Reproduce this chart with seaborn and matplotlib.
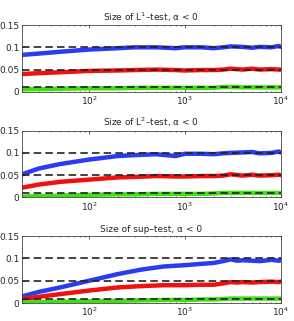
import matplotlib
matplotlib.use("Agg")
import matplotlib.pyplot as plt
import seaborn as sns
import numpy as np
import pandas as pd

# sample sizes (log axis)
n_l1 = [20, 30, 50, 100, 200, 300, 500, 800, 1000, 1500, 2000, 2500, 3000, 4000, 5000, 6000, 8000, 9500, 10000]
l1_blue = [0.083, 0.086, 0.090, 0.095, 0.098, 0.100, 0.100, 0.098, 0.100, 0.100, 0.098, 0.100, 0.102, 0.101, 0.099, 0.101, 0.100, 0.103, 0.101]
l1_red = [0.040, 0.042, 0.044, 0.047, 0.048, 0.049, 0.050, 0.049, 0.048, 0.049, 0.049, 0.050, 0.052, 0.050, 0.052, 0.050, 0.051, 0.050, 0.050]
l1_green = [0.006, 0.006, 0.007, 0.008, 0.008, 0.009, 0.009, 0.009, 0.009, 0.009, 0.009, 0.011, 0.011, 0.010, 0.010, 0.010, 0.010, 0.010, 0.010]

n_l2 = [20, 30, 50, 100, 200, 300, 500, 800, 1000, 1500, 2000, 2500, 3000, 4000, 5000, 6000, 8000, 9500, 10000]
l2_blue = [0.052, 0.065, 0.075, 0.085, 0.093, 0.095, 0.097, 0.093, 0.098, 0.098, 0.097, 0.099, 0.100, 0.101, 0.102, 0.099, 0.100, 0.103, 0.101]
l2_red = [0.022, 0.029, 0.035, 0.040, 0.045, 0.046, 0.048, 0.047, 0.047, 0.048, 0.048, 0.049, 0.052, 0.049, 0.051, 0.049, 0.050, 0.051, 0.050]
l2_green = [0.002, 0.003, 0.004, 0.006, 0.007, 0.007, 0.008, 0.008, 0.008, 0.008, 0.009, 0.010, 0.010, 0.010, 0.010, 0.010, 0.010, 0.010, 0.010]

n_sup = [20, 30, 50, 100, 200, 350, 600, 1000, 1500, 2000, 2500, 3000, 3500, 4000, 5000, 6000, 8000, 9500, 10000]
sup_blue = [0.015, 0.025, 0.035, 0.050, 0.065, 0.075, 0.082, 0.085, 0.088, 0.090, 0.094, 0.098, 0.095, 0.096, 0.095, 0.094, 0.097, 0.095, 0.096]
sup_red = [0.009, 0.014, 0.020, 0.028, 0.035, 0.038, 0.040, 0.040, 0.041, 0.041, 0.044, 0.047, 0.046, 0.047, 0.046, 0.047, 0.048, 0.047, 0.048]
sup_green = [0.001, 0.002, 0.003, 0.004, 0.005, 0.006, 0.007, 0.007, 0.008, 0.008, 0.009, 0.010, 0.010, 0.010, 0.010, 0.010, 0.010, 0.010, 0.010]

levels = [0.01, 0.05, 0.1]
titles = ["Size of L$^1$\u2013test, \u03b1 < 0",
          "Size of L$^2$\u2013test, \u03b1 < 0",
          "Size of sup\u2013test, \u03b1 < 0"]

panels = [(n_l1, l1_blue, l1_red, l1_green),
          (n_l2, l2_blue, l2_red, l2_green),
          (n_sup, sup_blue, sup_red, sup_green)]

sns.set_style("ticks")
plt.rcParams['font.family'] = ['DejaVu Sans']
plt.rcParams['font.size'] = 6.5

fig, axes = plt.subplots(3, 1, figsize=(2.94, 3.21), dpi=100)
fig.subplots_adjust(left=0.075, right=0.955, top=0.922, bottom=0.056, hspace=0.58)

for ax, title, (n, b, r, g) in zip(axes, titles, panels):
    df = pd.DataFrame({'n': n * 3, 'size': b + r + g,
                       'level': ['blue'] * len(n) + ['red'] * len(n) + ['green'] * len(n)})
    sns.lineplot(data=df, x='n', y='size', hue='level',
                 palette={'blue': '#2a3cf0', 'red': '#f01010', 'green': '#40e010'},
                 lw=3.2, legend=False, ax=ax, zorder=2)
    # nominal levels drawn over the curves
    for lev in levels:
        ax.axhline(lev, color='#222222', lw=1.2, ls=(0, (4.5, 2.5)), zorder=3)
    ax.set_xscale('log')
    ax.set_xlim(20, 10000)
    ax.set_ylim(0, 0.15)
    ax.set_yticks([0, 0.05, 0.1, 0.15])
    ax.set_yticklabels(['0', '0.05', '0.1', '0.15'])
    ax.set_xlabel('')
    ax.set_ylabel('')
    ax.set_title(title, fontsize=6.5, pad=3)
    ax.tick_params(direction='in', length=2, width=0.5, labelsize=6.5, pad=2,
                   top=True, right=True, which='both')
    ax.tick_params(which='minor', length=1)
    for s in ax.spines.values():
        s.set_linewidth(0.6)
        s.set_color('#444444')

fig.savefig('out.png', dpi=100)
